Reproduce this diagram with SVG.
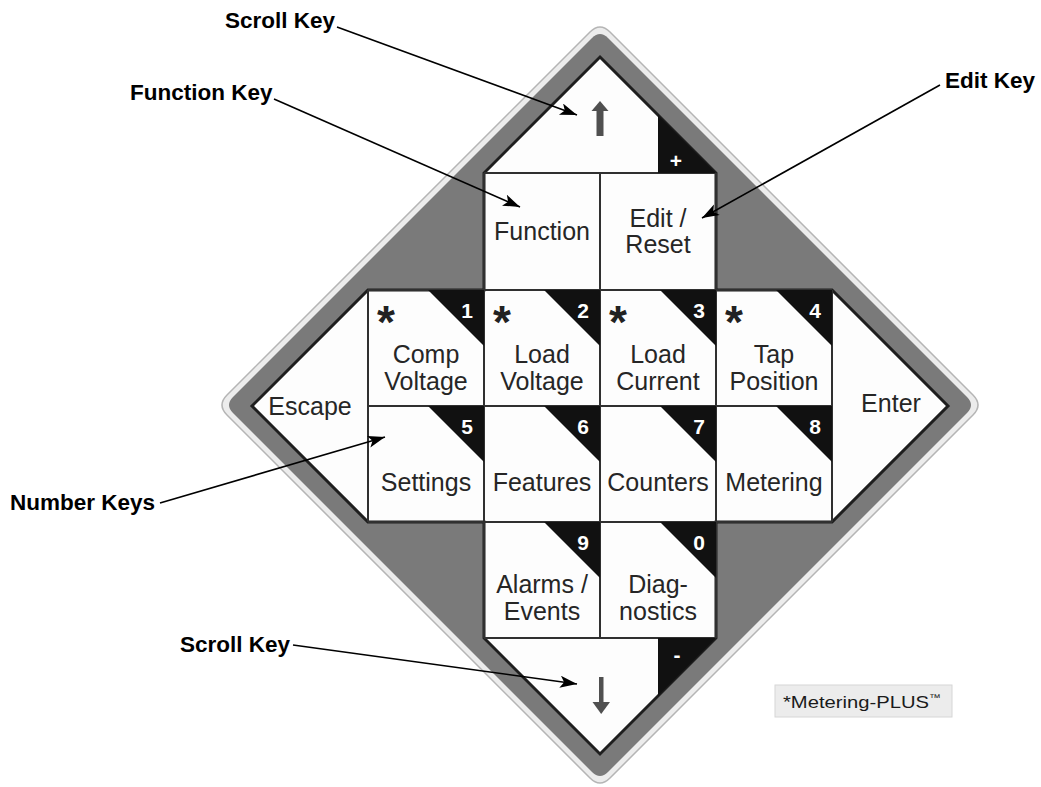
<svg xmlns="http://www.w3.org/2000/svg" width="1041" height="787" viewBox="0 0 1041 787">
<defs>
<marker id="ah" markerUnits="userSpaceOnUse" markerWidth="20" markerHeight="14" refX="17" refY="6" orient="auto">
<path d="M0,0 L17,6 L0,12 L4,6 Z" fill="#000"/>
</marker>
</defs>
<style>
.key{font-family:"Liberation Sans",Arial,sans-serif;font-size:25px;fill:#262626;text-anchor:middle}
.num{font-family:"Liberation Sans",Arial,sans-serif;font-size:21px;font-weight:bold;fill:#fff;text-anchor:middle}
.ast{font-family:"Liberation Sans",Arial,sans-serif;font-size:46px;font-weight:bold;fill:#222;text-anchor:middle}
.tri{fill:#111}
.grid{stroke:#303030;stroke-width:2;fill:none}
.lbl{font-family:"Liberation Sans",Arial,sans-serif;font-size:22.5px;font-weight:bold;fill:#000}
.conn{stroke:#000;stroke-width:1.6;fill:none;marker-end:url(#ah)}
.arr{fill:#505050}
</style>
<rect x="0" y="0" width="1041" height="787" fill="#fff"/>
<g id="bezel">
<path d="M590,32 Q600,22 610,32 L973,395 Q983,405 973,415 L610,778 Q600,788 590,778 L227,415 Q217,405 227,395 Z" fill="#ececec" stroke="#b5b5b5" stroke-width="1.5"/>
<path d="M592,38 Q600,30 608,38 L967,397 Q975,405 967,413 L608,772 Q600,780 592,772 L233,413 Q225,405 233,397 Z" fill="#7a7a7a"/>
<polygon points="600,57 716,173 716,290 832,290 948,406 832,522 716,522 716,638 600,754 484,638 484,522 368,522 252,406 368,290 484,290 484,173" fill="#fdfdfd" stroke="#1e1e1e" stroke-width="3" stroke-linejoin="miter"/>
<path class="grid" d="M484,173H716 M368,290H832 M368,406H832 M368,522H832 M484,638H716 M368,290V522 M484,173V638 M600,173V638 M716,173V638 M832,290V522"/>
</g>
<g id="key-up">
<polygon class="tri" points="658,115 716,173 658,173"/>
<text class="num" x="676" y="168" font-size="24">+</text>
<polygon class="arr" points="600,101 608.5,111 591.5,111"/>
<rect class="arr" x="596.5" y="110" width="7" height="26"/>
</g>
<g id="key-function"><text class="key" x="542" y="240">Function</text></g>
<g id="key-edit"><text class="key" x="658" y="227">Edit /</text><text class="key" x="658" y="253">Reset</text></g>
<g id="key-escape"><text class="key" x="310" y="415">Escape</text></g>
<g id="key-enter"><text class="key" x="891" y="412">Enter</text></g>
<g id="key-1">
<polygon class="tri" points="428,290 484,290 484,346"/><text class="num" x="467" y="318">1</text>
<text class="ast" x="386" y="338">*</text>
<text class="key" x="426" y="363">Comp</text><text class="key" x="426" y="390">Voltage</text>
</g>
<g id="key-2">
<polygon class="tri" points="544,290 600,290 600,346"/><text class="num" x="583" y="318">2</text>
<text class="ast" x="502" y="338">*</text>
<text class="key" x="542" y="363">Load</text><text class="key" x="542" y="390">Voltage</text>
</g>
<g id="key-3">
<polygon class="tri" points="660,290 716,290 716,346"/><text class="num" x="699" y="318">3</text>
<text class="ast" x="618" y="338">*</text>
<text class="key" x="658" y="363">Load</text><text class="key" x="658" y="390">Current</text>
</g>
<g id="key-4">
<polygon class="tri" points="776,290 832,290 832,346"/><text class="num" x="815" y="318">4</text>
<text class="ast" x="734" y="338">*</text>
<text class="key" x="774" y="363">Tap</text><text class="key" x="774" y="390">Position</text>
</g>
<g id="key-5">
<polygon class="tri" points="428,406 484,406 484,462"/><text class="num" x="467" y="434">5</text>
<text class="key" x="426" y="491">Settings</text>
</g>
<g id="key-6">
<polygon class="tri" points="544,406 600,406 600,462"/><text class="num" x="583" y="434">6</text>
<text class="key" x="542" y="491">Features</text>
</g>
<g id="key-7">
<polygon class="tri" points="660,406 716,406 716,462"/><text class="num" x="699" y="434">7</text>
<text class="key" x="658" y="491">Counters</text>
</g>
<g id="key-8">
<polygon class="tri" points="776,406 832,406 832,462"/><text class="num" x="815" y="434">8</text>
<text class="key" x="774" y="491">Metering</text>
</g>
<g id="key-9">
<polygon class="tri" points="544,522 600,522 600,578"/><text class="num" x="583" y="550">9</text>
<text class="key" x="542" y="593">Alarms /</text><text class="key" x="542" y="620">Events</text>
</g>
<g id="key-0">
<polygon class="tri" points="660,522 716,522 716,578"/><text class="num" x="699" y="550">0</text>
<text class="key" x="658" y="593">Diag-</text><text class="key" x="658" y="620">nostics</text>
</g>
<g id="key-down">
<polygon class="tri" points="658,638 716,638 658,696"/>
<text class="num" x="677" y="662" font-size="24">-</text>
<rect class="arr" x="599" y="677" width="4.5" height="28"/>
<polygon class="arr" points="592.5,702 610,702 601.2,714"/>
</g>
<g id="labels">
<text class="lbl" x="225" y="28">Scroll Key</text>
<text class="lbl" x="130" y="100">Function Key</text>
<text class="lbl" x="945" y="88">Edit Key</text>
<text class="lbl" x="10" y="510">Number Keys</text>
<text class="lbl" x="180" y="652">Scroll Key</text>
</g>
<g id="connectors">
<line class="conn" x1="337" y1="27" x2="577" y2="115"/>
<line class="conn" x1="274" y1="99" x2="520" y2="207"/>
<line class="conn" x1="940" y1="85" x2="702" y2="218"/>
<line class="conn" x1="160" y1="503" x2="385" y2="437"/>
<line class="conn" x1="293" y1="645" x2="577" y2="684"/>
</g>
<g id="legend">
<rect x="775" y="685" width="177" height="32" fill="#ececec" stroke="#d6d6d6"/>
<text x="783" y="708" font-family="Liberation Sans, Arial, sans-serif" font-size="17" fill="#1a1a1a" textLength="158" lengthAdjust="spacingAndGlyphs">*Metering-PLUS<tspan font-size="10" dy="-7">™</tspan></text>
</g>
</svg>
